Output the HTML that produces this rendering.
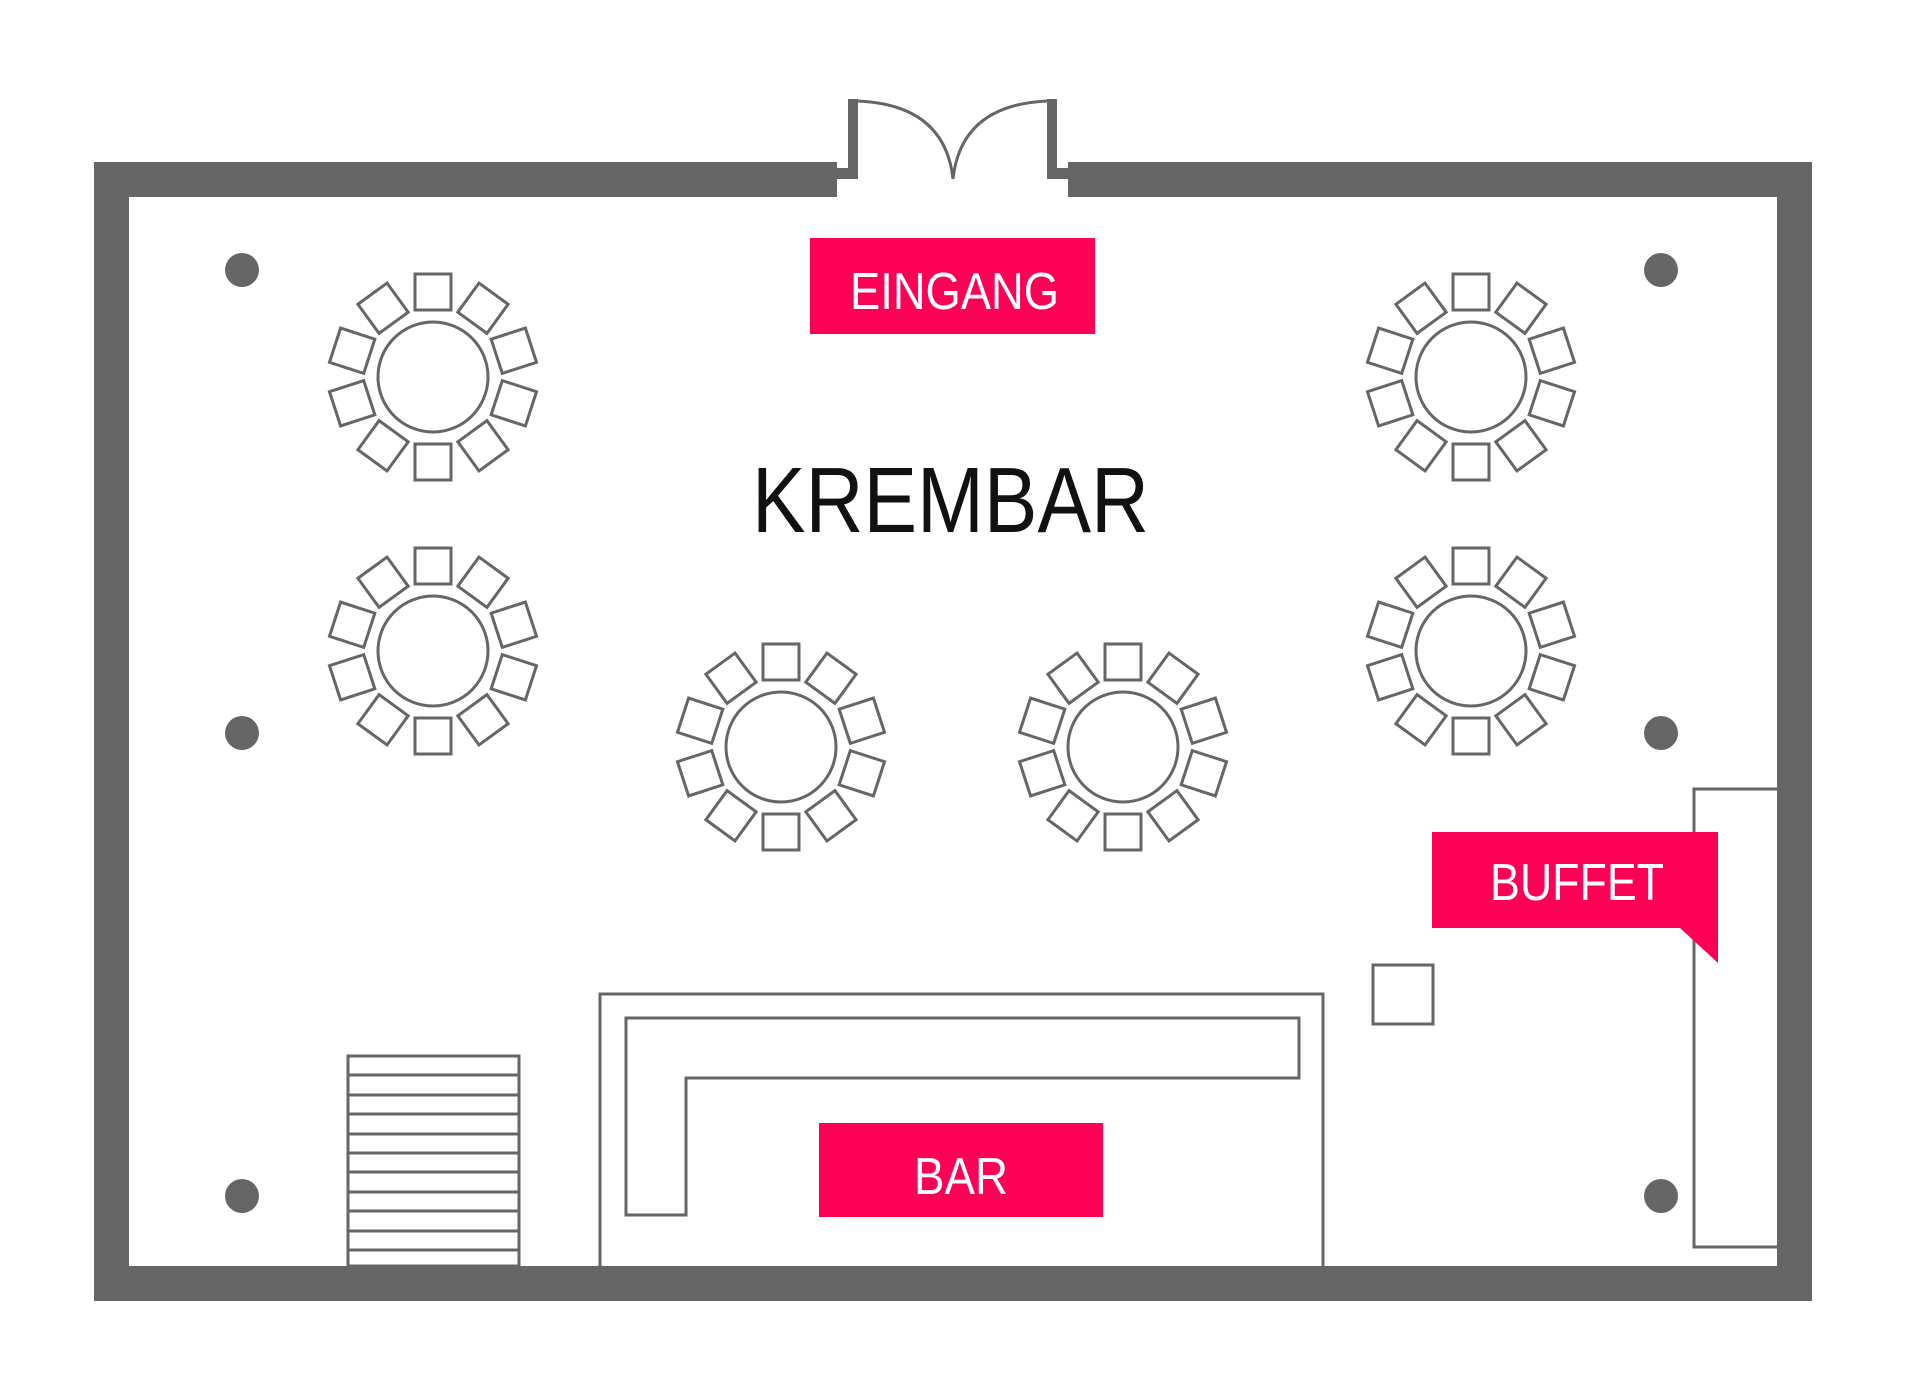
<!DOCTYPE html>
<html><head><meta charset="utf-8"><style>html,body{margin:0;padding:0;background:#fff}svg{display:block}</style></head>
<body>
<svg width="1905" height="1398" viewBox="0 0 1905 1398" xmlns="http://www.w3.org/2000/svg">
<defs>
<g id="t" fill="none" stroke="#666" stroke-width="3">
<circle r="55"/>
<rect x="-18" y="-103" width="36" height="36" transform="rotate(0)"/>
<rect x="-18" y="-103" width="36" height="36" transform="rotate(36)"/>
<rect x="-18" y="-103" width="36" height="36" transform="rotate(72)"/>
<rect x="-18" y="-103" width="36" height="36" transform="rotate(108)"/>
<rect x="-18" y="-103" width="36" height="36" transform="rotate(144)"/>
<rect x="-18" y="-103" width="36" height="36" transform="rotate(180)"/>
<rect x="-18" y="-103" width="36" height="36" transform="rotate(216)"/>
<rect x="-18" y="-103" width="36" height="36" transform="rotate(252)"/>
<rect x="-18" y="-103" width="36" height="36" transform="rotate(288)"/>
<rect x="-18" y="-103" width="36" height="36" transform="rotate(324)"/>
</g>
</defs>
<!-- walls -->
<g fill="#666">
<rect x="94" y="162" width="743" height="35"/>
<rect x="1068" y="162" width="744" height="35"/>
<rect x="94" y="162" width="35" height="1139"/>
<rect x="1777" y="162" width="35" height="1139"/>
<rect x="94" y="1266" width="1718" height="35"/>
<rect x="848" y="99" width="10" height="80"/>
<rect x="837" y="168" width="21" height="11"/>
<rect x="1047" y="99" width="10" height="80"/>
<rect x="1047" y="168" width="21" height="11"/>
<circle cx="242" cy="270" r="17"/><circle cx="1661" cy="270" r="17"/>
<circle cx="242" cy="733" r="17"/><circle cx="1661" cy="733" r="17"/>
<circle cx="242" cy="1196" r="17"/><circle cx="1661" cy="1196" r="17"/>
</g>
<g fill="none" stroke="#666" stroke-width="3">
<path d="M858 101 Q945 105 953 179"/>
<path d="M1047 101 Q961 105 953 179"/>
<path d="M1777 789 H1694 V1247 H1777"/>
<rect x="1373" y="965" width="60" height="59"/>
<path d="M600 1266 V994 H1323 V1266"/>
<path d="M626 1018 H1299 V1078 H686 V1215 H626 Z"/>
<rect x="348" y="1056" width="171" height="210"/>
<path d="M348 1075 H519 M348 1095 H519 M348 1114 H519 M348 1134 H519 M348 1153 H519 M348 1172 H519 M348 1192 H519 M348 1211 H519 M348 1231 H519 M348 1250 H519"/>
</g>
<use href="#t" x="433" y="377"/>
<use href="#t" x="1471" y="377"/>
<use href="#t" x="433" y="651"/>
<use href="#t" x="1471" y="651"/>
<use href="#t" x="781" y="747"/>
<use href="#t" x="1123" y="747"/>
<!-- labels -->
<g fill="#fe0157">
<rect x="810" y="238" width="285" height="96"/>
<path d="M1432 832 H1718 V963 L1680 928 H1432 Z"/>
<rect x="819" y="1123" width="284" height="94"/>
</g>
<g font-family="Liberation Sans, sans-serif" fill="#fff" font-size="52">
<text x="850" y="309" textLength="209" lengthAdjust="spacingAndGlyphs">EINGANG</text>
<text x="1490" y="900" textLength="174" lengthAdjust="spacingAndGlyphs">BUFFET</text>
<text x="914" y="1194" textLength="94" lengthAdjust="spacingAndGlyphs">BAR</text>
</g>
<text x="752" y="532" font-family="Liberation Sans, sans-serif" font-size="93" fill="#111" textLength="397" lengthAdjust="spacingAndGlyphs">KREMBAR</text>
</svg>
</body></html>
